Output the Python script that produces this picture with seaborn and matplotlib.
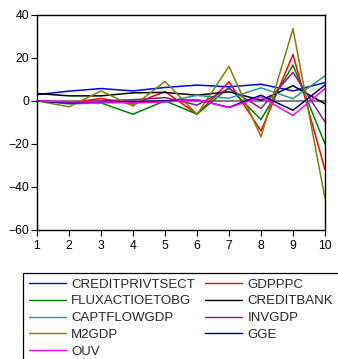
import numpy as np
import pandas as pd
import matplotlib
matplotlib.use("Agg")
import matplotlib.pyplot as plt
import seaborn as sns
from matplotlib.patches import Rectangle
from matplotlib.lines import Line2D

periods = [1, 2, 3, 4, 5, 6, 7, 8, 9, 10]
CREDITPRIVTSECT = [2.9, 4.5, 5.7, 4.6, 6.2, 7.3, 6.5, 7.7, 4.6, 8.5]
GDPPPC = [0.0, -1.0, 1.1, -1.5, 4.3, -6.2, 8.8, -14.0, 21.5, -32.0]
FLUXACTIOETOBG = [0.0, -1.0, -1.0, -6.2, 0.0, -6.2, 6.2, -8.7, 16.6, -20.0]
CREDITBANK = [3.4, 2.3, 2.3, 3.7, 3.9, 2.6, 4.2, 0.3, 7.0, -1.4]
CAPTFLOWGDP = [0.0, -1.5, -1.0, -0.5, -0.5, 2.5, 1.2, 6.0, 1.0, 11.6]
INVGDP = [0.0, -1.0, 0.0, 0.5, 1.5, -2.0, 5.7, -3.5, 13.2, -9.8]
M2GDP = [0.0, -2.8, 4.6, -2.5, 9.0, -6.3, 16.0, -16.7, 33.5, -45.4]
GGE = [0.0, -1.0, -0.5, -0.5, 0.0, 0.5, -3.0, 2.6, -4.4, 7.3]
OUV = [0.0, -0.5, -0.5, -1.0, -0.5, 0.5, -3.2, 1.8, -6.8, 5.7]

series_names = ["CREDITPRIVTSECT", "GDPPPC", "FLUXACTIOETOBG", "CREDITBANK",
                "CAPTFLOWGDP", "INVGDP", "M2GDP", "GGE", "OUV"]
series_values = [CREDITPRIVTSECT, GDPPPC, FLUXACTIOETOBG, CREDITBANK,
                 CAPTFLOWGDP, INVGDP, M2GDP, GGE, OUV]
colors = {"CREDITPRIVTSECT": "#0000ff", "GDPPPC": "#ff0000",
          "FLUXACTIOETOBG": "#008000", "CREDITBANK": "#000000",
          "CAPTFLOWGDP": "#2a9696", "INVGDP": "#8b1a8b",
          "M2GDP": "#808000", "GGE": "#00007f", "OUV": "#ff00ff"}
x_ticks = [1, 2, 3, 4, 5, 6, 7, 8, 9, 10]
y_ticks = [-60, -40, -20, 0, 20, 40]

rows = []
for name, vals in zip(series_names, series_values):
    for p, v in zip(periods, vals):
        rows.append({"period": p, "value": v, "series": name})
df = pd.DataFrame(rows)

sns.set_style("ticks")
plt.rcParams['font.family'] = ['Liberation Sans', 'DejaVu Sans']

fig = plt.figure(figsize=(3.38, 3.59), dpi=100)
ax = fig.add_axes([37/338, 1-230/359, (325-37)/338, (230-14.7)/359])

ax.axhline(0, color="#808080", lw=1.6, zorder=1)
sns.lineplot(data=df, x="period", y="value", hue="series", hue_order=series_names,
             palette=colors, lw=1.1, ax=ax, legend=False, sort=False,
             estimator=None, zorder=2)

ax.set_xlim(1, 10)
ax.set_ylim(-60, 40)
ax.set_xticks(x_ticks)
ax.set_yticks(y_ticks)
ax.set_xlabel("")
ax.set_ylabel("")
ax.tick_params(axis="both", direction="out", length=4.5, width=0.8, labelsize=8.8,
               colors="black")
ax.tick_params(axis="x", pad=3)
ax.tick_params(axis="y", pad=1)
for s in ax.spines.values():
    s.set_linewidth(1.0)
    s.set_color("black")

# legend, ordered row-wise as in reference (two columns)
col1 = ["CREDITPRIVTSECT", "FLUXACTIOETOBG", "CAPTFLOWGDP", "M2GDP", "OUV"]
col2 = ["GDPPPC", "CREDITBANK", "INVGDP", "GGE"]
order = col1 + col2
handles = [Line2D([], [], color=colors[n], lw=1.0) for n in order]
leg = fig.legend(handles, order, loc="upper left", ncol=2,
                 bbox_to_anchor=(29/338, 1-278.5/359), frameon=False,
                 fontsize=9.5, borderpad=0, borderaxespad=0,
                 handlelength=2.8, handletextpad=0.4, labelspacing=0.34,
                 columnspacing=0.77)
fig.add_artist(Rectangle((23/338, -0.05), 1.0, 1-273/359+0.05,
                         transform=fig.transFigure, fill=False,
                         edgecolor="black", lw=0.9))

fig.savefig("out.png", dpi=100)
